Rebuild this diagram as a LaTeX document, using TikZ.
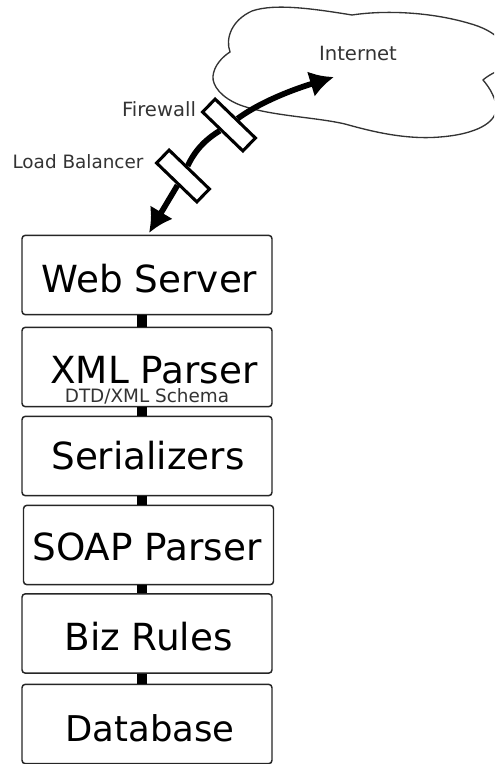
\documentclass[tikz,border=0pt]{standalone}
\usepackage{fontspec}
\setmainfont{DejaVu Sans}
\usetikzlibrary{arrows.meta}
\tikzset{
  px/.style={x=0.75pt,y=-0.75pt},
  tier/.style={draw=black!85,line width=1.1pt,rounded corners=2.5pt,fill=white,minimum width=187.5pt,minimum height=59.5pt,inner sep=0pt},
  bridge/.style={line width=7.5pt,black},
  big/.style={anchor=base,inner sep=0pt,font=\fontsize{28}{28}\selectfont,text=black},
  bigb/.style={big,font=\fontsize{26.6}{27}\selectfont},
  small/.style={anchor=base,inner sep=0pt,font=\fontsize{13.8}{14}\selectfont,text=black!80},
  smallb/.style={small,font=\fontsize{14.7}{15}\selectfont},
  device/.style={draw=black,line width=2.3pt,fill=white,minimum width=42pt,minimum height=13.5pt,inner sep=0pt,rotate=-44},
  flow/.style={line width=4.3pt,black},
  flowtip/.style={flow,-{Latex[length=18pt,width=20pt]}},
  cloudline/.style={draw=black!80,line width=1pt,fill=white}
}
\begin{document}
\begin{tikzpicture}[px]
\clip (0,0) rectangle (494,764);
% cloud
\draw[cloudline] (230,52)
  .. controls (225,38) and (232,20) .. (252,11)
  .. controls (275,3) and (315,9) .. (352,15)
  .. controls (385,10) and (430,12) .. (468,23)
  .. controls (483,27) and (494,33) .. (500,40)
  -- (500,70)
  .. controls (490,74) and (484,79) .. (483,80)
  .. controls (490,88) and (497,100) .. (496,110)
  .. controls (495,122) and (478,134) .. (440,137)
  .. controls (405,140) and (370,131) .. (345,124)
  .. controls (315,117) and (270,116) .. (240,105)
  .. controls (222,98) and (212,86) .. (213,76)
  .. controls (214,66) and (222,57) .. (230,52) -- cycle;
% tiers
\node[tier] (web) at (147,275) {};
\node[tier] (xml) at (147,367) {};
\node[tier] (ser) at (147,456) {};
\node[tier] (soap) at (148.5,545) {};
\node[tier] (biz) at (147,633.5) {};
\node[tier] (db) at (147,724) {};
% bridges
\coordinate (axis) at (142,0);
\draw[bridge] (web.south -| axis) -- (xml.north -| axis);
\draw[bridge] (xml.south -| axis) -- (ser.north -| axis);
\draw[bridge] (ser.south -| axis) -- (soap.north -| axis);
\draw[bridge] (soap.south -| axis) -- (biz.north -| axis);
\draw[bridge] (biz.south -| axis) -- (db.north -| axis);
% devices
\node[device] (fw) at (229,125) {};
\node[device] (lb) at (183,176) {};
\coordinate (inet) at (334,77);
\draw[flowtip] (fw) .. controls (256,105) and (285,92) .. (inet);
\draw[flow] (fw) .. controls (208,138) and (196,148) .. (lb);
\coordinate (webin) at (149,233);
\draw[flowtip] (lb) -- (webin);
% labels
\node[big] (tweb) at (149.5,292) {Web Server};
\node[big] (txml) at (154,383) {XML Parser};
\node[small] (tdtd) at (147,402) {DTD/XML Schema};
\node[big] (tser) at (148,469) {Serializers};
\node[big] (tsoap) at (147,560) {SOAP Parser};
\node[big] (tbiz) at (148.5,650) {Biz Rules};
\node[bigb] (tdb) at (150,741) {Database};
\node[smallb] (tfw) at (159,116.5) {Firewall};
\node[small] (tlb) at (78,168) {Load Balancer};
\node[smallb] (tin) at (358,60) {Internet};
\end{tikzpicture}
\end{document}
